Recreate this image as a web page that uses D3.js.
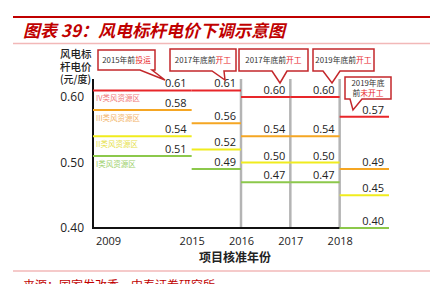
<!DOCTYPE html>
<html>
<head>
<meta charset="utf-8">
<script src="https://cdn.jsdelivr.net/npm/d3@7"></script>
<style>
  body { margin: 0; background: #fff; }
  svg { display: block; font-family: "Noto Sans CJK SC", "Noto Sans", sans-serif; }
</style>
</head>
<body>
<div id="chart"></div>
<script>
// periods of approval (first one is 2009-2015, twice as wide)
var periods = ["2009-2015", "2015", "2016", "2017", "2018"];
var periodSpan = [2, 1, 1, 1, 1];
var xTickLabels = ["2009", "2015", "2016", "2017", "2018"];
var yTicks = [0.40, 0.50, 0.60];

// benchmark price by resource class (yuan / kWh)
var classIV  = [0.61, 0.61, 0.60, 0.60, 0.57];
var classIII = [0.58, 0.56, 0.54, 0.54, 0.49];
var classII  = [0.54, 0.52, 0.50, 0.50, 0.45];
var classI   = [0.51, 0.49, 0.47, 0.47, 0.40];
var regionNames = ["IV类风资源区", "III类风资源区", "II类风资源区", "I类风资源区"];

var width = 446, height = 284;
var lineColors = ["#e8262a", "#f5a623", "#f0ec1e", "#8cc84b"];
var labelColors = ["#f07878", "#f2b468", "#e6df4a", "#9ccf6a"];

var svg = d3.select("#chart").append("svg")
    .attr("width", width)
    .attr("height", height);

// header rules + title
svg.append("line").attr("x1", 13).attr("x2", 430).attr("y1", 17).attr("y2", 17)
  .style("stroke", "#c00000").style("stroke-width", 2);
svg.append("line").attr("x1", 13).attr("x2", 430).attr("y1", 43.5).attr("y2", 43.5)
  .style("stroke", "#f2b8b8").style("stroke-width", 1.5);
svg.append("text")
  .attr("x", 23).attr("y", 37)
  .style("font-size", "17px").style("font-weight", "bold").style("font-style", "italic")
  .style("fill", "#c00000")
  .text("图表 39：风电标杆电价下调示意图");

// scales
var bounds = [0];
periodSpan.forEach(function(s, i) { bounds.push(bounds[i] + s); });

var x = d3.scaleLinear()
  .domain([0, bounds[bounds.length - 1]])
  .range([93, 389]);

var y = d3.scaleLinear()
  .domain([0.40, 0.6275])
  .range([228, 79]);

// vertical separators at period boundaries
svg.selectAll(".sep")
  .data(bounds.slice(2, bounds.length - 1))
  .enter().append("line")
    .attr("class", "sep")
    .attr("x1", function(d) { return x(d); })
    .attr("x2", function(d) { return x(d); })
    .attr("y1", y.range()[1])
    .attr("y2", y(0.40))
    .style("stroke", "#b4b4b4").style("stroke-width", 2.5);

// axes
svg.append("line")
  .attr("x1", x(0)).attr("x2", x(0))
  .attr("y1", y.range()[1]).attr("y2", y(0.40) + 1)
  .style("stroke", "#111").style("stroke-width", 2);
svg.append("line")
  .attr("x1", x(0)).attr("x2", x(bounds[bounds.length - 2]))
  .attr("y1", y(0.40)).attr("y2", y(0.40))
  .style("stroke", "#111").style("stroke-width", 2);

var yAxis = svg.append("g")
  .attr("transform", "translate(" + x(0) + ",0)")
  .call(d3.axisLeft(y).tickValues(yTicks).tickSize(0).tickPadding(9).tickFormat(d3.format(".2f")));
yAxis.select(".domain").remove();
yAxis.selectAll("text")
  .style("font-family", "'Open Sans', 'Noto Sans', sans-serif")
  .style("font-size", "12px").style("fill", "#222");

var xAxis = svg.append("g")
  .attr("transform", "translate(0," + y(0.40) + ")")
  .call(d3.axisBottom(x).tickValues(bounds.slice(0, bounds.length - 1)).tickSize(0).tickPadding(9)
    .tickFormat(function(d, i) { return xTickLabels[i]; }));
xAxis.select(".domain").remove();
xAxis.selectAll("text")
  .style("font-family", "'Open Sans', 'Noto Sans', sans-serif")
  .style("font-size", "11px").style("fill", "#222")
  .attr("dx", function(d, i) { return i === 0 ? 15 : 0; });

// axis titles
var yTitle = ["风电标", "杆电价", "(元/度)"];
svg.selectAll(".ytitle")
  .data(yTitle)
  .enter().append("text")
    .attr("class", "ytitle")
    .attr("x", 60)
    .attr("y", function(d, i) { return 58 + i * 12.5; })
    .attr("textLength", function(d, i) { return i === 2 ? 31 : null; })
    .attr("lengthAdjust", "spacingAndGlyphs")
    .style("font-size", "10.5px").style("font-weight", "500").style("fill", "#222")
    .text(function(d) { return d; });

svg.append("text")
  .attr("x", 235).attr("y", 262)
  .attr("text-anchor", "middle")
  .style("font-size", "12px").style("font-weight", "bold").style("fill", "#222")
  .text("项目核准年份");

// price segments
var series = [classIV, classIII, classII, classI];
var segs = [];
series.forEach(function(vals, k) {
  vals.forEach(function(v, i) {
    segs.push({ k: k, v: v, x0: bounds[i], x1: bounds[i + 1] });
  });
});

svg.selectAll(".seg")
  .data(segs)
  .enter().append("line")
    .attr("class", "seg")
    .attr("x1", function(d) { return x(d.x0); })
    .attr("x2", function(d) { return x(d.x1); })
    .attr("y1", function(d) { return y(d.v); })
    .attr("y2", function(d) { return y(d.v); })
    .style("stroke", function(d) { return lineColors[d.k]; })
    .style("stroke-width", 2);

svg.selectAll(".val")
  .data(segs)
  .enter().append("text")
    .attr("class", "val")
    .attr("x", function(d) { return x(d.x1) - 5; })
    .attr("y", function(d) { return y(d.v) - 3; })
    .attr("text-anchor", "end")
    .style("font-family", "'Open Sans', 'Noto Sans', sans-serif")
    .style("font-size", "11px").style("fill", "#222")
    .text(function(d) { return d3.format(".2f")(d.v); });

// region names under the first period's lines
svg.selectAll(".region")
  .data(regionNames)
  .enter().append("text")
    .attr("class", "region")
    .attr("x", x(0) + 3)
    .attr("y", function(d, i) { return y(series[i][0]) + 11; })
    .style("font-size", "7.5px")
    .style("fill", function(d, i) { return labelColors[i]; })
    .text(function(d) { return d; });

// callouts
var callouts = [
  { lines: [[["2015年前", "#333"], ["投运", "#e8262a"]]], box: [98, 50, 57, 20], tail: [140, 152, 165, 80] },
  { lines: [[["2017年底前", "#333"], ["开工", "#e8262a"]]], box: [170, 49, 66, 22], tail: [212, 224, 225, 80] },
  { lines: [[["2017年底前", "#333"], ["开工", "#e8262a"]]], box: [239, 49, 69, 22], tail: [272, 287, 280, 83] },
  { lines: [[["2019年底前", "#333"], ["开工", "#e8262a"]]], box: [313, 49, 61, 22], tail: [323, 340, 332, 83] },
  { lines: [[["2019年底", "#333"]], [["前", "#333"], ["未开工", "#e8262a"]]], box: [345, 77, 46, 22], tail: [350, 362, 353, 110] }
];

callouts.forEach(function(c) {
  var bx = c.box[0], by = c.box[1], bw = c.box[2], bh = c.box[3];
  var t = c.tail;
  var p = d3.path();
  p.moveTo(bx, by);
  p.lineTo(bx + bw, by);
  p.lineTo(bx + bw, by + bh);
  p.lineTo(t[1], by + bh);
  p.lineTo(t[2], t[3]);
  p.lineTo(t[0], by + bh);
  p.lineTo(bx, by + bh);
  p.closePath();
  svg.append("path")
    .attr("d", p.toString())
    .style("fill", "#fff")
    .style("stroke", "#c3272b")
    .style("stroke-width", 1.5)
    .style("stroke-linejoin", "miter");

  var n = c.lines.length;
  c.lines.forEach(function(parts, li) {
    var txt = svg.append("text")
      .attr("x", bx + bw / 2)
      .attr("y", by + bh / 2 + 3 + (li - (n - 1) / 2) * 10)
      .attr("text-anchor", "middle")
      .style("font-size", "7.8px");
    parts.forEach(function(pt) {
      txt.append("tspan").style("fill", pt[1]).text(pt[0]);
    });
  });
});

// footer
svg.append("line").attr("x1", 13).attr("x2", 430).attr("y1", 271).attr("y2", 271)
  .style("stroke", "#f2b8b8").style("stroke-width", 1.5);
svg.append("text")
  .attr("x", 23).attr("y", 290)
  .style("font-size", "12px").style("fill", "#c00000")
  .text("来源：国家发改委，中泰证券研究所");
</script>
</body>
</html>
